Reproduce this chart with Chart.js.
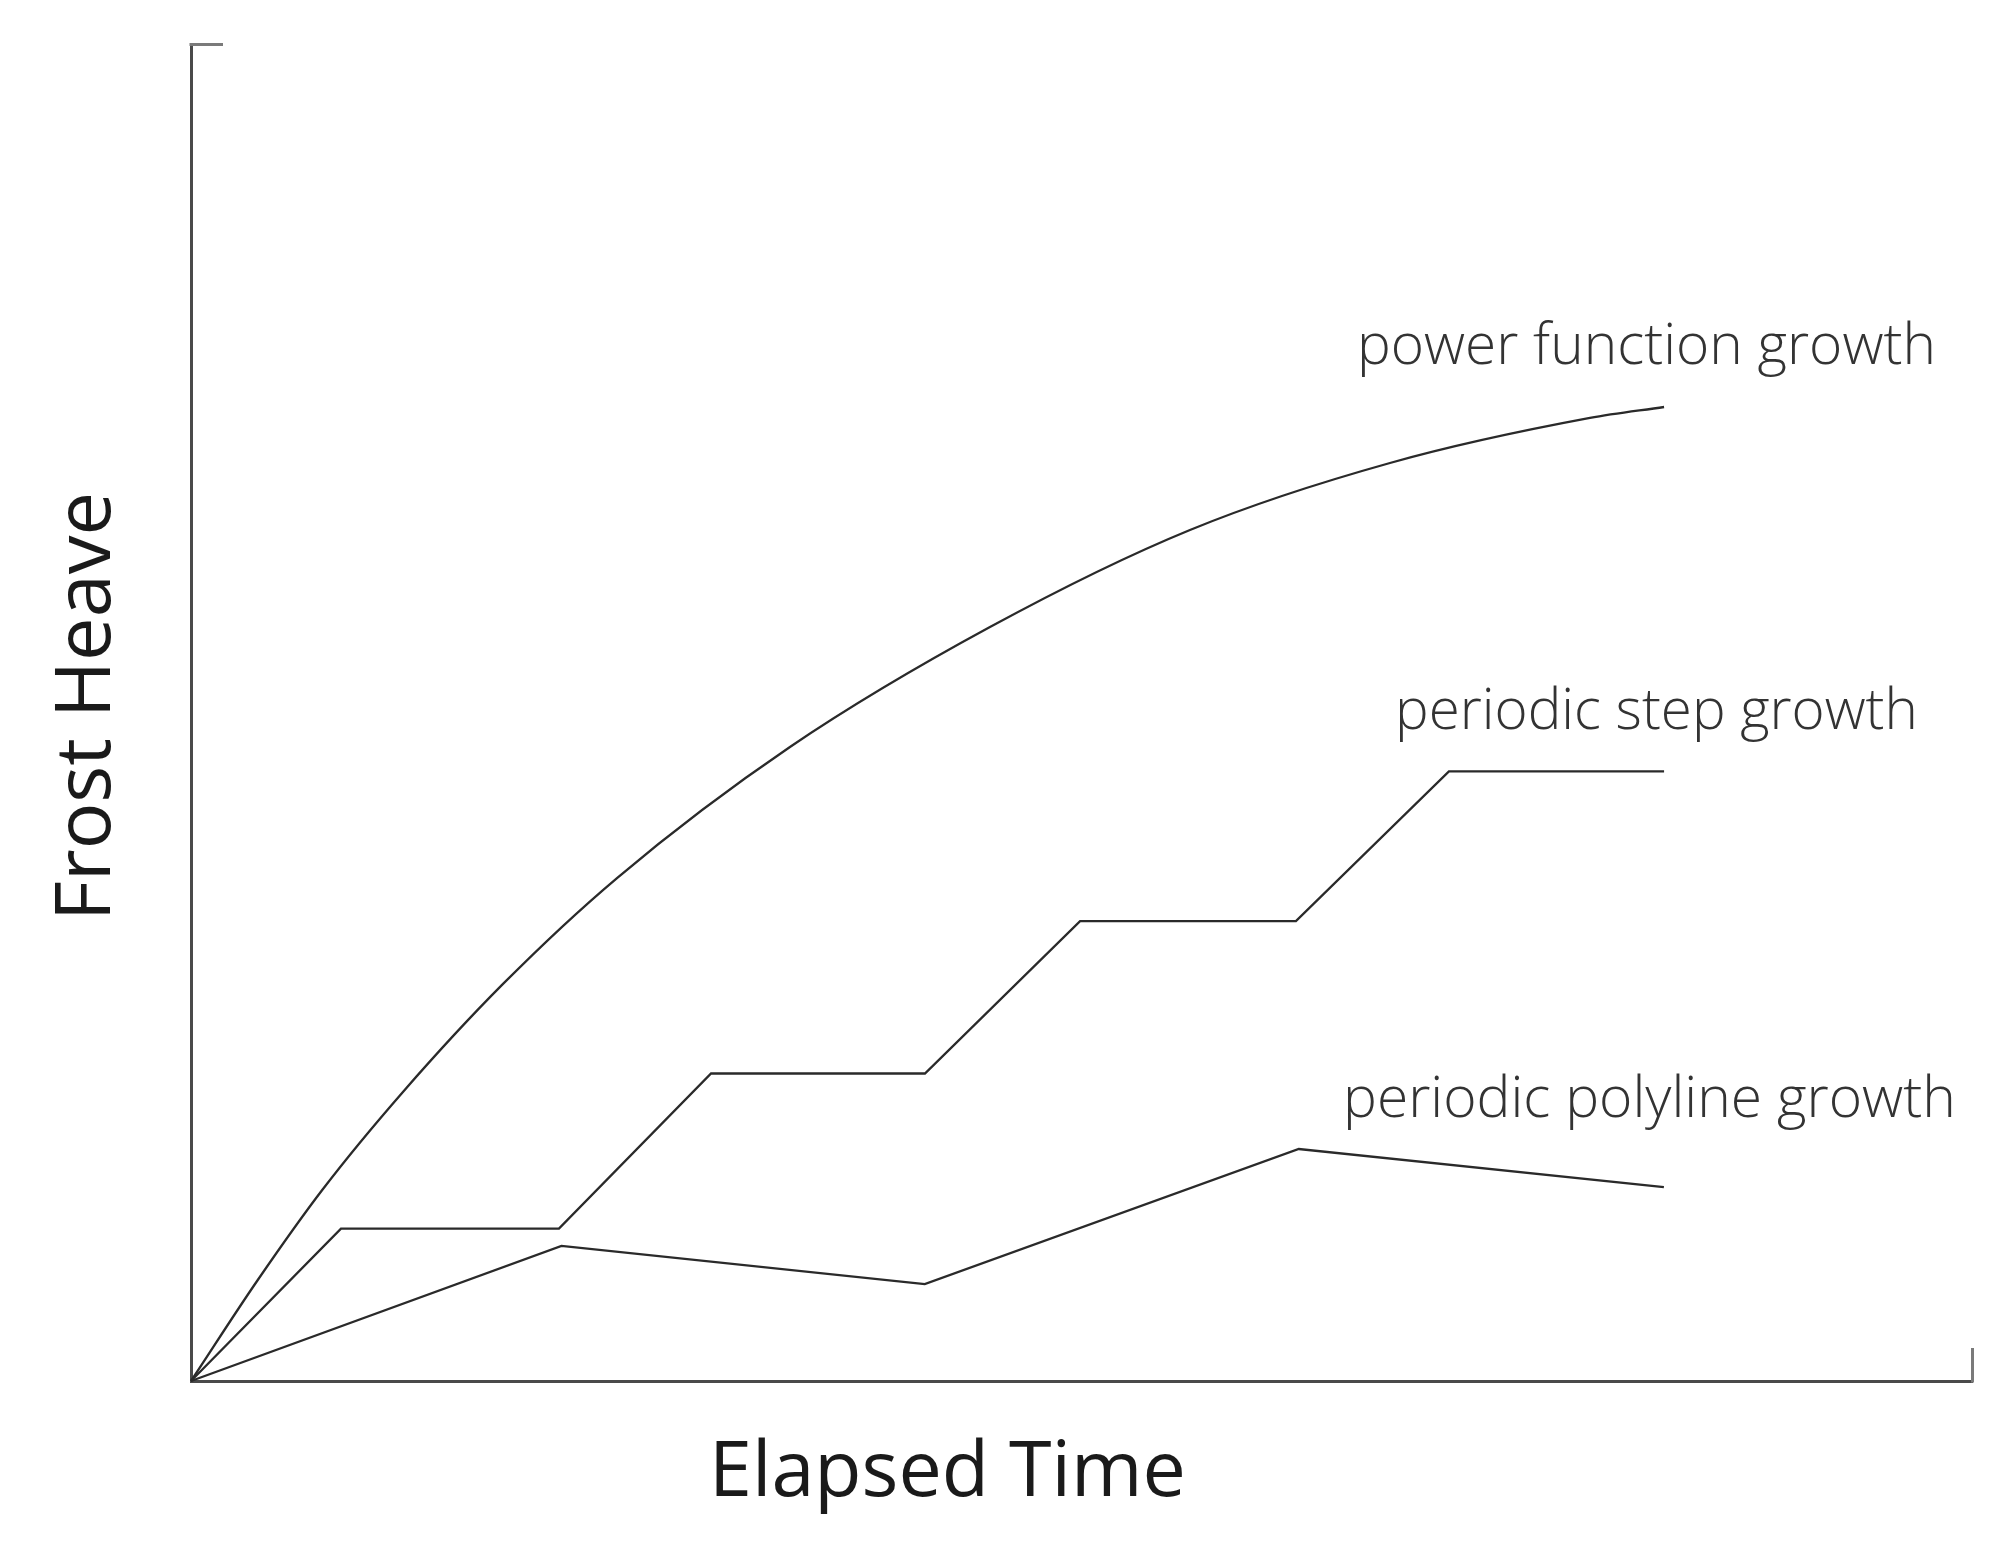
<!DOCTYPE html>
<html>
<head>
<meta charset="utf-8">
<script src="https://cdn.jsdelivr.net/npm/chart.js@4.4.1/dist/chart.umd.min.js"></script>
<style>
  html, body { margin: 0; padding: 0; background: #ffffff; }
  #wrap { width: 2004px; height: 1542px; position: relative; }
</style>
</head>
<body>
<div id="wrap"><canvas id="c" width="2004" height="1542"></canvas></div>
<script>
// ---- data (normalised units: axis spans 0..100 on both directions) ----
const seriesNames = ["power function growth", "periodic step growth", "periodic polyline growth"];
const axisTitles = ["Elapsed Time", "Frost Heave"];

const powerX = [0, 3.71, 7.41, 11.90, 17.52, 23.92, 33.63, 44.86, 56.09, 67.32, 78.55, 82.71];
const powerY = [0, 7.48, 14.36, 21.62, 29.70, 37.62, 47.42, 56.39, 63.65, 68.66, 72.03, 72.85];

const stepX = [0, 8.42, 20.66, 29.20, 41.21, 49.92, 62.04, 70.63, 82.71];
const stepY = [0, 11.4, 11.4, 23.0, 23.0, 34.4, 34.4, 45.6, 45.6];

const polyX = [0, 20.8, 41.2, 62.2, 82.7];
const polyY = [0, 10.1, 7.25, 17.35, 14.5];

const toPts = (xs, ys) => xs.map((x, i) => ({ x: x, y: ys[i] }));

const LINE = '#2a2a2a';
const AXIS = '#4a4a4a';
const CAP = '#7a7a7a';

function fitFont(ctx, text, target, weight, family) {
  ctx.font = weight + ' 100px ' + family;
  const w = ctx.measureText(text).width;
  const size = 100 * target / w;
  return weight + ' ' + size.toFixed(2) + 'px ' + family;
}

const decor = {
  id: 'decor',
  afterDraw(chart) {
    const ctx = chart.ctx;
    const a = chart.chartArea;
    ctx.save();
    // axis end caps
    ctx.strokeStyle = CAP;
    ctx.lineWidth = 3;
    ctx.beginPath();
    ctx.moveTo(a.left - 1.5, a.top + 0.5);
    ctx.lineTo(a.left + 32, a.top + 0.5);
    ctx.stroke();
    ctx.beginPath();
    ctx.moveTo(a.right + 0.5, a.bottom + 1.5);
    ctx.lineTo(a.right + 0.5, a.bottom - 33);
    ctx.stroke();

    // series labels
    const fam = '"Open Sans", "Noto Sans", sans-serif';
    ctx.fillStyle = '#333333';
    ctx.textAlign = 'left';
    ctx.textBaseline = 'alphabetic';
    const lab = [
      { t: seriesNames[0], x: 1357, y: 364, w: 579 },
      { t: seriesNames[1], x: 1395, y: 729, w: 523 },
      { t: seriesNames[2], x: 1343, y: 1117, w: 613 }
    ];
    lab.forEach(l => {
      ctx.font = fitFont(ctx, l.t, l.w, '300', fam);
      ctx.fillText(l.t, l.x, l.y);
    });

    // axis titles
    ctx.fillStyle = '#1a1a1a';
    ctx.font = fitFont(ctx, axisTitles[0], 477, '400', fam);
    ctx.textAlign = 'left';
    ctx.fillText(axisTitles[0], 709, 1496);

    ctx.save();
    ctx.translate(110, 921);
    ctx.rotate(-Math.PI / 2);
    ctx.font = fitFont(ctx, axisTitles[1], 429, '400', fam);
    ctx.textAlign = 'left';
    ctx.fillText(axisTitles[1], 0, 0);
    ctx.restore();

    ctx.restore();
  }
};

const ds = (label, pts, smooth) => ({
  label: label,
  data: pts,
  borderColor: LINE,
  borderWidth: 2.3,
  pointRadius: 0,
  fill: false,
  clip: false,
  tension: 0,
  cubicInterpolationMode: smooth ? 'monotone' : 'default'
});

new Chart(document.getElementById('c'), {
  type: 'line',
  data: {
    datasets: [
      ds(seriesNames[0], toPts(powerX, powerY), true),
      ds(seriesNames[1], toPts(stepX, stepY), false),
      ds(seriesNames[2], toPts(polyX, polyY), false)
    ]
  },
  options: {
    responsive: false,
    animation: false,
    devicePixelRatio: 1,
    events: [],
    layout: { padding: { left: 191, right: 32, top: 44, bottom: 161 } },
    plugins: { legend: { display: false }, tooltip: { enabled: false }, title: { display: false } },
    scales: {
      x: {
        type: 'linear', min: 0, max: 100,
        ticks: { display: false },
        grid: { display: false, drawTicks: false },
        border: { display: true, color: AXIS, width: 3 }
      },
      y: {
        type: 'linear', min: 0, max: 100,
        ticks: { display: false },
        grid: { display: false, drawTicks: false },
        border: { display: true, color: AXIS, width: 3 }
      }
    }
  },
  plugins: [decor]
});
</script>
</body>
</html>
